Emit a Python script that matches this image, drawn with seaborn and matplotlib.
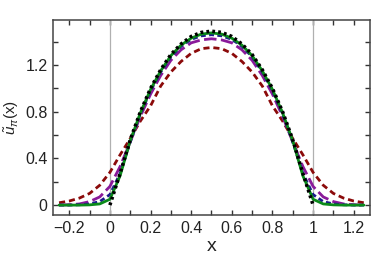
import matplotlib
matplotlib.use('Agg')
import matplotlib.pyplot as plt
import matplotlib.ticker as mticker
import seaborn as sns
import pandas as pd

# values
x_full = [-0.25, -0.2, -0.15, -0.1, -0.05, 0.0, 0.05, 0.1, 0.15, 0.2, 0.25, 0.3,
          0.35, 0.4, 0.45, 0.5, 0.55, 0.6, 0.65, 0.7, 0.75, 0.8, 0.85, 0.9,
          0.95, 1.0, 1.05, 1.1, 1.15, 1.2, 1.25]
x_unit = [0.0, 0.05, 0.1, 0.15, 0.2, 0.25, 0.3, 0.35, 0.4, 0.45, 0.5,
          0.55, 0.6, 0.65, 0.7, 0.75, 0.8, 0.85, 0.9, 0.95, 1.0]

u_red = [0.02, 0.035, 0.06, 0.10, 0.17, 0.28, 0.43, 0.57, 0.72, 0.85, 1.02, 1.14,
         1.23, 1.30, 1.34, 1.35, 1.34, 1.30, 1.23, 1.14, 1.02, 0.85, 0.72, 0.57,
         0.43, 0.28, 0.17, 0.10, 0.06, 0.035, 0.02]
u_purple = [0.001, 0.003, 0.01, 0.03, 0.07, 0.16, 0.33, 0.54, 0.76, 0.95, 1.11, 1.24,
            1.33, 1.39, 1.415, 1.425, 1.415, 1.39, 1.33, 1.24, 1.11, 0.95, 0.76, 0.54,
            0.33, 0.16, 0.07, 0.03, 0.01, 0.003, 0.001]
u_blue = [0.0, 0.0, 0.003, 0.01, 0.03, 0.09, 0.27, 0.54, 0.78, 0.98, 1.14, 1.27,
          1.36, 1.42, 1.45, 1.46, 1.45, 1.42, 1.36, 1.27, 1.14, 0.98, 0.78, 0.54,
          0.27, 0.09, 0.03, 0.01, 0.003, 0.0, 0.0]
u_green = [0.0, 0.0, 0.0, 0.002, 0.01, 0.05, 0.25, 0.55, 0.79, 0.99, 1.15, 1.28,
           1.37, 1.43, 1.465, 1.475, 1.465, 1.43, 1.37, 1.28, 1.15, 0.99, 0.79, 0.55,
           0.25, 0.05, 0.01, 0.002, 0.0, 0.0, 0.0]
u_black = [0.0, 0.27, 0.56, 0.80, 1.00, 1.16, 1.29, 1.38, 1.445, 1.48, 1.49,
           1.48, 1.445, 1.38, 1.29, 1.16, 1.00, 0.80, 0.56, 0.27, 0.0]

sns.set_style('ticks')
plt.rcParams['font.family'] = ['Liberation Sans', 'DejaVu Sans']
plt.rcParams['mathtext.fontset'] = 'custom'
plt.rcParams['mathtext.rm'] = 'Liberation Sans'
plt.rcParams['mathtext.it'] = 'Liberation Sans:italic'

fig = plt.figure(figsize=(3.74, 2.6), dpi=100)
ax = fig.add_axes([0.1417, 0.173, 0.8476, 0.752])

ax.axvline(0, color='#b0b0b0', lw=0.9, zorder=1)
ax.axvline(1, color='#b0b0b0', lw=0.9, zorder=1)

df = pd.DataFrame({'x': x_full, 'red': u_red, 'purple': u_purple,
                   'blue': u_blue, 'green': u_green})
sns.lineplot(data=df, x='x', y='red', ax=ax, color='#8b0a0a', lw=2.0,
             linestyle=(0, (2.2, 1.4)), zorder=2)
sns.lineplot(data=df, x='x', y='purple', ax=ax, color='#8a1a9a', lw=2.0,
             linestyle=(0, (4.5, 1.6)), zorder=3)
sns.lineplot(data=df, x='x', y='blue', ax=ax, color='#1a1a8c', lw=2.0,
             linestyle=(0, (1.8, 1.2)), zorder=4)
sns.lineplot(data=df, x='x', y='green', ax=ax, color='#0a8a1a', lw=2.0, zorder=5)
sns.lineplot(x=x_unit, y=u_black, ax=ax, color='black', lw=2.5,
             linestyle=(0, (0.8, 0.9)), zorder=6)

ax.set_xlim(-0.28, 1.28)
ax.set_ylim(-0.085, 1.59)
ax.xaxis.set_major_locator(mticker.MultipleLocator(0.2))
ax.xaxis.set_minor_locator(mticker.MultipleLocator(0.1))
ax.yaxis.set_major_locator(mticker.MultipleLocator(0.4))
ax.yaxis.set_minor_locator(mticker.MultipleLocator(0.2))
fmt = mticker.FuncFormatter(lambda v, p: ('%g' % round(v, 6)).replace('-', '\u2212'))
ax.xaxis.set_major_formatter(fmt)
ax.yaxis.set_major_formatter(fmt)
ax.tick_params(which='both', direction='in', top=True, right=True,
               length=3.5, width=1.0, color='#333333', labelsize=11.5,
               labelcolor='#222222', pad=4)
for s in ax.spines.values():
    s.set_linewidth(1.1)
    s.set_color('#444444')

ax.set_xlabel('x', fontsize=14, color='#222222', labelpad=2)
ax.set_ylabel(r'$\tilde{u}_{\pi}$(x)', fontsize=11, color='#222222', labelpad=3)

fig.savefig('out.png', dpi=100)
